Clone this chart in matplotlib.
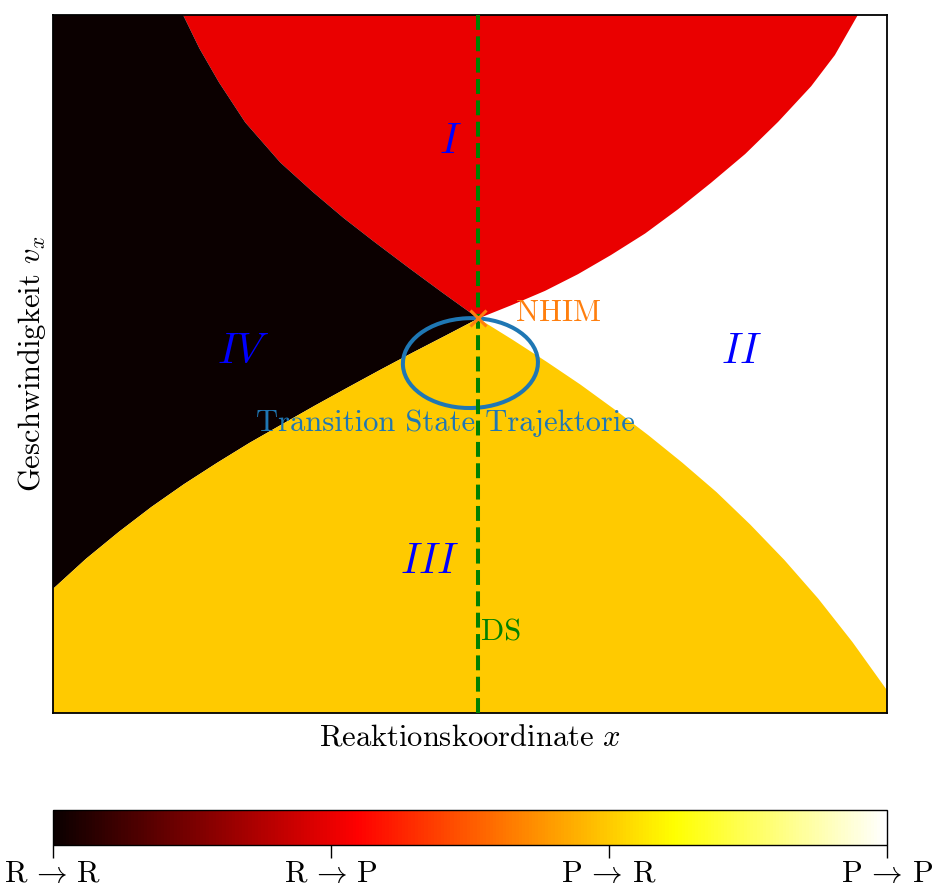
import matplotlib
matplotlib.use("Agg")
import matplotlib.pyplot as plt
from matplotlib import cm, colors
from matplotlib.patches import Ellipse

plt.rcParams["font.family"] = ["cmr10", "DejaVu Serif"]
plt.rcParams["mathtext.fontset"] = "cm"
plt.rcParams["axes.unicode_minus"] = False

# Separatrices through the NHIM at (0, 0): (x, v_x) samples
ul_x = [-0.708, -0.669, -0.622, -0.559, -0.475, -0.397, -0.323, -0.249, -0.166, -0.088, 0.0]
ul_v = [1.000, 0.890, 0.778, 0.646, 0.514, 0.417, 0.331, 0.252, 0.166, 0.087, 0.0]
ur_x = [0.0, 0.078, 0.160, 0.239, 0.318, 0.400, 0.479, 0.558, 0.640, 0.719, 0.798, 0.855, 0.910]
ur_v = [0.0, 0.043, 0.091, 0.146, 0.209, 0.280, 0.360, 0.447, 0.542, 0.648, 0.765, 0.868, 1.000]
ll_x = [0.0, -0.078, -0.157, -0.235, -0.314, -0.392, -0.470, -0.549, -0.627,
        -0.706, -0.784, -0.862, -0.941, -1.020]
ll_v = [0.0, -0.056, -0.112, -0.169, -0.228, -0.287, -0.348, -0.410, -0.476,
        -0.546, -0.621, -0.703, -0.792, -0.891]
lr_x = [0.0, 0.082, 0.163, 0.245, 0.326, 0.408, 0.489, 0.571, 0.652, 0.734,
        0.815, 0.897, 0.980]
lr_v = [0.0, -0.070, -0.142, -0.218, -0.299, -0.385, -0.475, -0.572, -0.679,
        -0.796, -0.923, -1.066, -1.225]

x_min, x_max = -1.02, 0.98
v_min, v_max = -1.3, 1.0

# Outcome codes of the four regions
outcome_labels = [r"R$\,\rightarrow\,$R", r"R$\,\rightarrow\,$P",
                  r"P$\,\rightarrow\,$R", r"P$\,\rightarrow\,$P"]
outcome_values = [0, 1, 2, 3]
region_names = [r"$IV$", r"$I$", r"$III$", r"$II$"]
region_pos = [(-0.564, -0.110), (-0.068, 0.582), (-0.116, -0.802), (0.632, -0.110)]

# Transition-state trajectory (closed orbit around the NHIM)
ts_center = (-0.019, -0.147)
ts_width, ts_height = 0.324, 0.296

cmap = plt.get_cmap("hot")
norm = colors.Normalize(vmin=0, vmax=3)
col = {v: cmap(norm(v)) for v in outcome_values}

fig = plt.figure(figsize=(9.37, 8.88), dpi=100)
ax = fig.add_axes([53 / 937, 1 - 713 / 888, 834 / 937, 698 / 888])

# P -> P (white) background region
ax.fill([x_min, x_max, x_max, x_min], [v_min, v_min, v_max, v_max],
        color=col[3], lw=0)
# R -> P (red): above both upper branches
ax.fill(ul_x + ur_x[1:], ul_v + ur_v[1:], color=col[1], lw=0)
# R -> R (black): left wedge
ax.fill([x_min] + ul_x + ll_x[1:], [v_max] + ul_v + ll_v[1:], color=col[0], lw=0)
# P -> R (yellow): below both lower branches
ax.fill(ll_x + [x_min, x_max] + lr_x[::-1],
        ll_v + [v_min, v_min] + lr_v[::-1], color=col[2], lw=0)

ax.set_xlim(x_min, x_max)
ax.set_ylim(v_min, v_max)
ax.set_xticks([])
ax.set_yticks([])
for s in ax.spines.values():
    s.set_linewidth(1.3)

# Dividing surface
ax.axvline(0, color="green", ls="--", lw=2.9, zorder=4)
ax.text(0.007, -1.036, "DS", color="green", fontsize=22, ha="left", va="center", zorder=6)

# Transition-state trajectory
ax.add_patch(Ellipse(ts_center, ts_width, ts_height, angle=4, fill=False,
                     ec="#1f77b4", lw=2.9, zorder=3))
ax.text(-0.078, -0.344, "Transition State Trajektorie", color="#1f77b4",
        fontsize=22, ha="center", va="center", zorder=6)

# NHIM
ax.plot([0], [0], marker="x", color="#ff7f0e", ms=12, mew=2.2, zorder=7)
ax.text(0.091, 0.018, "NHIM", color="#ff7f0e", fontsize=22, ha="left", va="center", zorder=6)

for name, (px, pv) in zip(region_names, region_pos):
    ax.text(px, pv, name, color="blue", fontsize=30, ha="center", va="center", zorder=6)

ax.set_xlabel(r"Reaktionskoordinate $x$", fontsize=22, labelpad=8)
ax.set_ylabel(r"Geschwindigkeit $v_x$", fontsize=22, labelpad=3.5)

# Outcome colour bar
cax = fig.add_axes([53 / 937, 1 - 845 / 888, 834 / 937, 35 / 888])
sm = cm.ScalarMappable(norm=norm, cmap=cmap)
cb = fig.colorbar(sm, cax=cax, orientation="horizontal", ticks=outcome_values)
cb.set_ticklabels(outcome_labels)
cb.ax.tick_params(labelsize=22, length=9, width=1.0, pad=2)
cb.outline.set_linewidth(1.0)

fig.savefig("out.png", dpi=100)
